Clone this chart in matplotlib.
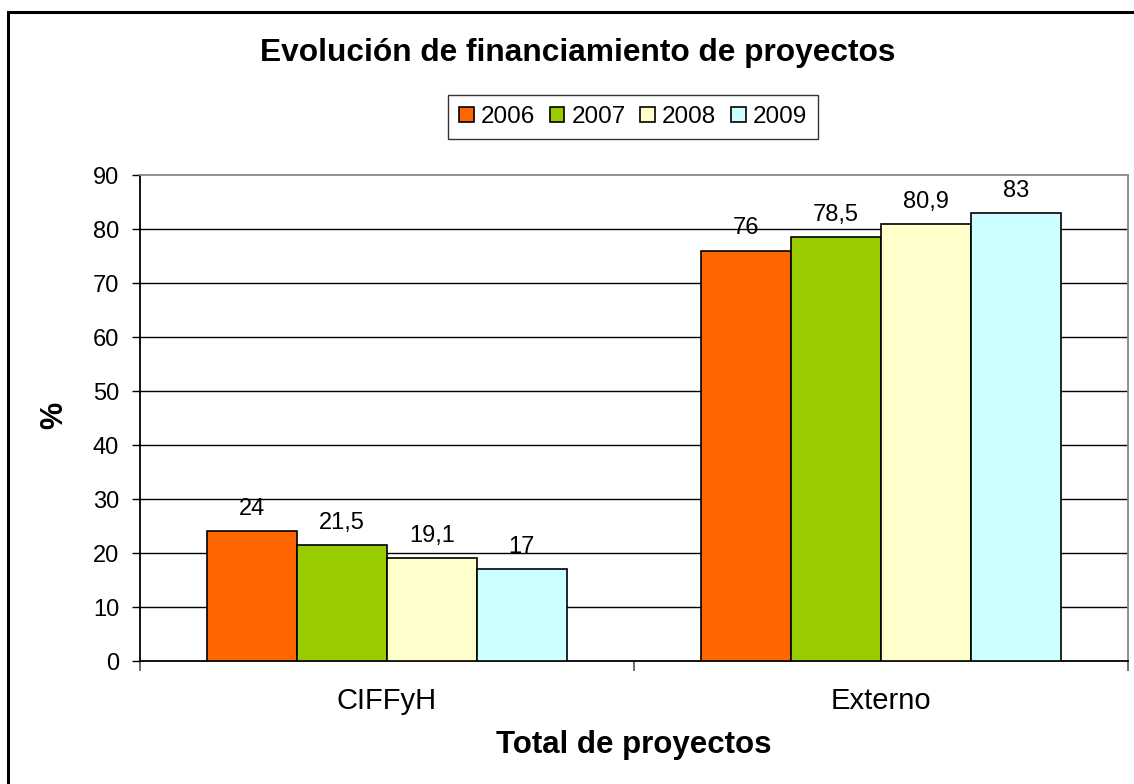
import matplotlib.pyplot as plt
import matplotlib.patches as patches
import numpy as np

plt.rcParams['font.family'] = ['Liberation Sans', 'DejaVu Sans']

categories = ['CIFFyH', 'Externo']
years = ['2006', '2007', '2008', '2009']
values = {
    '2006': [24, 76],
    '2007': [21.5, 78.5],
    '2008': [19.1, 80.9],
    '2009': [17, 83],
}
colors = ['#FF6600', '#99CC00', '#FFFFCC', '#CCFFFF']

fig = plt.figure(figsize=(11.34, 7.84), dpi=100)
ax = fig.add_axes([140 / 1134, 1 - 661 / 784, 988 / 1134, 486 / 784])

# outer chart frame
fig.patches.append(patches.Rectangle((8 / 1134, -0.1), 1.2, 1 - 12 / 784 + 0.1,
                                     transform=fig.transFigure, fill=False,
                                     edgecolor='black', linewidth=2.2))

centers = np.array([0.5, 1.5])
w = 0.182
for i, y in enumerate(years):
    xs = centers + (i - 1.5) * w
    bars = ax.bar(xs, values[y], width=w, color=colors[i], edgecolor='black',
                  linewidth=1.2, label=y, zorder=3)
    for b, v in zip(bars, values[y]):
        lab = ('%g' % v).replace('.', ',')
        ax.annotate(lab, (b.get_x() + b.get_width() / 2, v), xytext=(0, 8),
                    textcoords='offset points', ha='center', va='bottom', fontsize=17)

ax.set_xlim(0, 2)
ax.set_ylim(0, 90)
ax.set_yticks(range(0, 91, 10))
ax.tick_params(axis='y', labelsize=17, length=6, width=1, direction='out', pad=9)
ax.set_xticks([0, 1, 2])
ax.set_xticklabels(['', '', ''])
ax.tick_params(axis='x', which='major', length=7, width=1.2, color='#555555')
ax.set_xticks(centers, minor=True)
ax.set_xticklabels(categories, minor=True)
ax.tick_params(axis='x', which='minor', length=0, labelsize=21, pad=19)

for g in range(10, 90, 10):
    ax.axhline(g, color='black', linewidth=1, zorder=1)

ax.spines['left'].set_color('black')
ax.spines['bottom'].set_color('black')
ax.spines['top'].set_color('#888888')
ax.spines['right'].set_color('#888888')
for s in ax.spines.values():
    s.set_linewidth(1.3)

ax.set_ylabel('%', fontsize=22, fontweight='bold', va='center')
ax.yaxis.set_label_coords(-0.087, 0.506)
ax.set_xlabel('Total de proyectos', fontsize=22.5, fontweight='bold', va='center')
ax.xaxis.set_label_coords(0.5, -0.173)

fig.text(578 / 1134, 1 - 53 / 784, 'Evolución de financiamiento de proyectos', ha='center',
         va='center', fontsize=22.8, fontweight='bold')

leg = ax.legend(loc='center', bbox_to_anchor=(633 / 1134, 1 - 117 / 784),
                bbox_transform=fig.transFigure, ncol=4, fontsize=17.5, frameon=True,
                fancybox=False, edgecolor='black', handlelength=0.6, handleheight=0.6,
                handletextpad=0.3, columnspacing=0.6, borderpad=0.45)
leg.get_frame().set_linewidth(1.0)

fig.savefig('out.png', dpi=100)
